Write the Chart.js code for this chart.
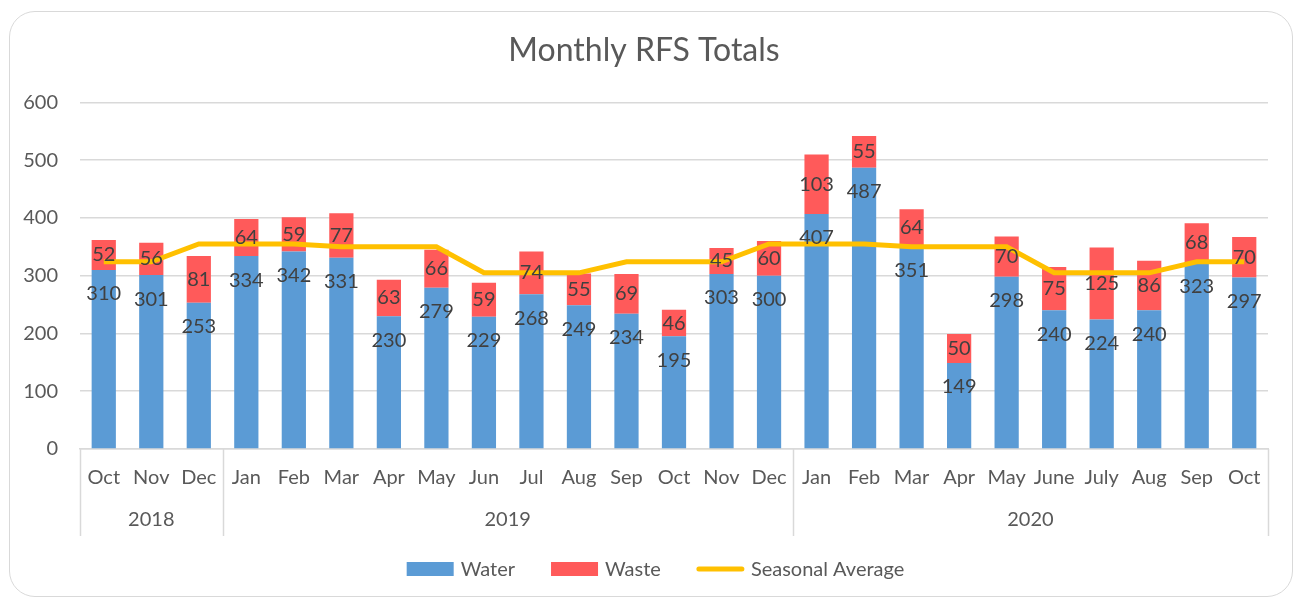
<!DOCTYPE html>
<html>
<head>
<meta charset="utf-8">
<title>Monthly RFS Totals</title>
<script src="https://cdn.jsdelivr.net/npm/chart.js@4/dist/chart.umd.min.js"></script>
<style>
  html, body { margin: 0; padding: 0; background: #fff; overflow: hidden; }
  #frame {
    position: absolute; left: 9px; top: 11px; width: 1282px; height: 584px;
    border: 1.5px solid #d9d9d9; border-radius: 26px; pointer-events: none;
  }
  #wrap { position: absolute; left: 0; top: 0; width: 1295px; height: 600px; }
</style>
</head>
<body>
<div id="wrap"><canvas id="rfsChart"></canvas></div>
<div id="frame"></div>
<script>
(function () {
    "use strict";

    // months shown on the axis, oldest first
    var months = ['Oct', 'Nov', 'Dec',
        'Jan', 'Feb', 'Mar', 'Apr', 'May', 'Jun', 'Jul', 'Aug', 'Sep', 'Oct', 'Nov', 'Dec',
        'Jan', 'Feb', 'Mar', 'Apr', 'May', 'June', 'July', 'Aug', 'Sep', 'Oct'];

    // year groups under the months, with how many months each one spans
    var years = ['2018', '2019', '2020'];
    var yearSpans = [3, 12, 10];

    var water = [310, 301, 253,
        334, 342, 331, 230, 279, 229, 268, 249, 234, 195, 303, 300,
        407, 487, 351, 149, 298, 240, 224, 240, 323, 297];

    var waste = [52, 56, 81,
        64, 59, 77, 63, 66, 59, 74, 55, 69, 46, 45, 60,
        103, 55, 64, 50, 70, 75, 125, 86, 68, 70];

    var seasonalAvg = [324, 324, 355,
        355, 355, 350, 350, 350, 305, 305, 305, 324, 324, 324, 355,
        355, 355, 350, 350, 350, 305, 305, 305, 324, 324];

    var FONT = 'Lato';
    var GREY = '#595959';

    // value labels: water sits just under the top of its bar, waste in the middle of its segment
    var barLabels = {
        id: 'barLabels',
        afterDatasetsDraw: function (chart) {
            var ctx = chart.ctx;
            ctx.save();
            ctx.font = '20px ' + FONT;
            ctx.fillStyle = '#404040';
            ctx.textAlign = 'center';
            ctx.textBaseline = 'middle';
            [0, 1].forEach(function (di) {
                var meta = chart.getDatasetMeta(di);
                var values = chart.data.datasets[di].data;
                meta.data.forEach(function (bar, i) {
                    var y = di === 0 ? bar.y + 24 : (bar.y + bar.base) / 2;
                    ctx.fillText(String(values[i]), bar.x, y);
                });
            });
            ctx.restore();
        }
    };

    // second row of the category axis: year names and the dividers between them
    var yearRow = {
        id: 'yearRow',
        afterDraw: function (chart) {
            var x = chart.scales.x;
            var ctx = chart.ctx;
            var step = x.width / months.length;
            var top = x.top;
            var bottom = x.top + 87;
            ctx.save();
            ctx.strokeStyle = '#d9d9d9';
            ctx.lineWidth = 1.5;
            ctx.font = '20px ' + FONT;
            ctx.fillStyle = GREY;
            ctx.textAlign = 'center';
            ctx.textBaseline = 'middle';
            var start = 0;
            var edges = [x.getPixelForValue(0) - step / 2];
            years.forEach(function (yr, k) {
                var end = start + yearSpans[k];
                var left = x.getPixelForValue(start) - step / 2;
                var right = x.getPixelForValue(end - 1) + step / 2;
                edges.push(right);
                ctx.fillText(yr, (left + right) / 2, top + 71);
                start = end;
            });
            edges.forEach(function (px) {
                ctx.beginPath();
                ctx.moveTo(Math.round(px) + 0.5, top);
                ctx.lineTo(Math.round(px) + 0.5, bottom);
                ctx.stroke();
            });
            ctx.restore();
        }
    };

    // legend row under the axis; built-in legend can't space items this wide
    var legendRow = {
        id: 'legendRow',
        afterDraw: function (chart) {
            var ctx = chart.ctx;
            var sets = chart.data.datasets;
            var swatch = 47, gap = 7, spacing = 36;
            var y = chart.scales.x.bottom + 20;
            ctx.save();
            ctx.font = '20px ' + FONT;
            ctx.textBaseline = 'middle';
            var widths = sets.map(function (ds) {
                return swatch + gap + ctx.measureText(ds.label).width;
            });
            var total = widths.reduce(function (a, b) { return a + b; }, 0) + spacing * (sets.length - 1);
            var x = chart.width / 2 + 8 - total / 2;
            sets.forEach(function (ds, i) {
                if (ds.type === 'line') {
                    ctx.strokeStyle = ds.borderColor;
                    ctx.lineWidth = ds.borderWidth;
                    ctx.lineCap = 'round';
                    ctx.beginPath();
                    ctx.moveTo(x + 2, y);
                    ctx.lineTo(x + swatch - 2, y);
                    ctx.stroke();
                } else {
                    ctx.fillStyle = ds.backgroundColor;
                    ctx.fillRect(x, y - 7, swatch, 14);
                }
                ctx.fillStyle = GREY;
                ctx.fillText(ds.label, x + swatch + gap, y + 1);
                x += widths[i] + spacing;
            });
            ctx.restore();
        }
    };

    var ctx = document.getElementById('rfsChart').getContext('2d');
    var chart = new Chart(ctx, {
        type: 'bar',
        data: {
            labels: months,
            datasets: [{
                label: 'Water',
                data: water,
                backgroundColor: '#5b9bd5',
                order: 1,
                barPercentage: 0.51,
                categoryPercentage: 1
            }, {
                label: 'Waste',
                data: waste,
                backgroundColor: '#ff5a5a',
                order: 1,
                barPercentage: 0.51,
                categoryPercentage: 1
            }, {
                type: 'line',
                label: 'Seasonal Average',
                data: seasonalAvg,
                stack: 'avg',
                borderColor: '#ffc000',
                backgroundColor: '#ffc000',
                borderWidth: 5,
                pointRadius: 0,
                tension: 0,
                order: 0
            }]
        },
        options: {
            responsive: true,
            maintainAspectRatio: false,
            animation: false,
            layout: { padding: { left: 20, right: 27, top: 17, bottom: 51 } },
            scales: {
                x: {
                    stacked: true,
                    grid: { display: false },
                    border: { display: true, color: '#d9d9d9', width: 1.5 },
                    ticks: {
                        autoSkip: false,
                        maxRotation: 0,
                        padding: 9,
                        color: GREY,
                        font: { family: FONT, size: 20 }
                    },
                    afterFit: function (scale) { scale.height = 100; }
                },
                y: {
                    stacked: true,
                    min: 0,
                    max: 600,
                    ticks: {
                        stepSize: 100,
                        padding: 22,
                        color: GREY,
                        font: { family: FONT, size: 20 }
                    },
                    grid: { color: '#d9d9d9', lineWidth: 1.5, drawTicks: false },
                    border: { display: false },
                    afterFit: function (scale) { scale.width = 60; }
                }
            },
            plugins: {
                title: {
                    display: true,
                    text: 'Monthly RFS Totals',
                    color: GREY,
                    font: { family: FONT, size: 32, weight: 'normal' },
                    padding: { top: 14, bottom: 33 }
                },
                legend: { display: false },
                tooltip: { enabled: false }
            }
        },
        plugins: [barLabels, yearRow, legendRow]
    });
})();
</script>
</body>
</html>
